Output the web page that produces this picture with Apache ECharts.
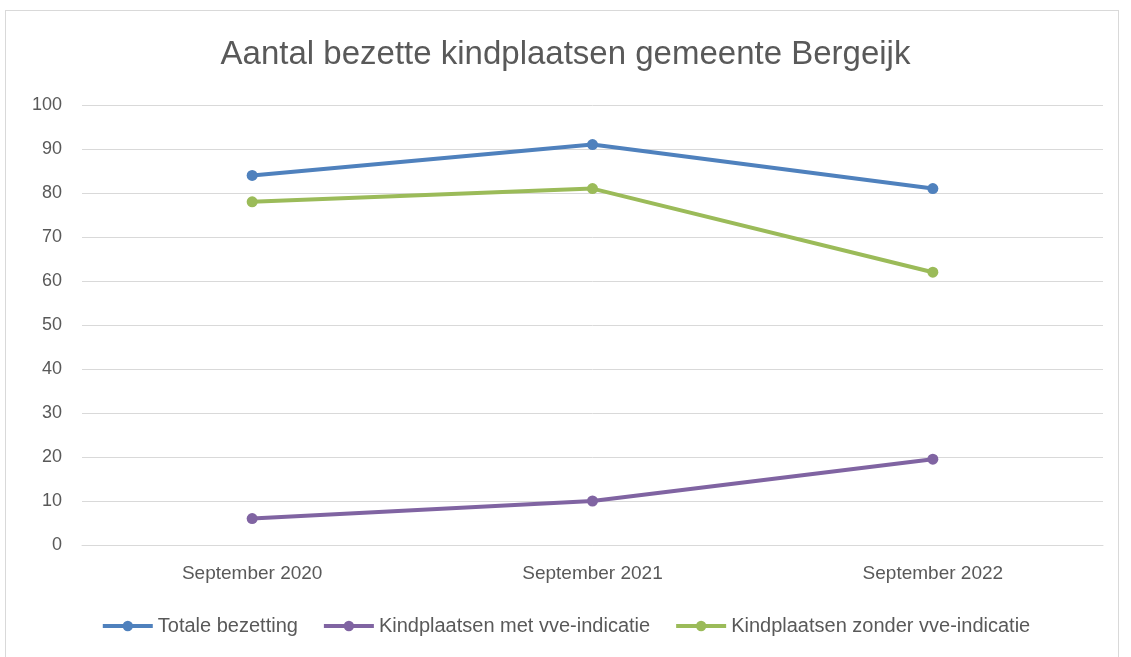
<!DOCTYPE html>
<html>
<head>
<meta charset="utf-8">
<script src="https://cdn.jsdelivr.net/npm/echarts@6/dist/echarts.min.js"></script>
<style>
    * { margin: 0; padding: 0; }
    body { background: #fff; }
    #frame { position: absolute; left: 5px; top: 10px; width: 1114px; height: 660px; border: 1px solid #d9d9d9; box-sizing: border-box; }
    #main { width: 1131px; height: 657px; position: absolute; left: 0; top: 0; }
</style>
</head>
<body>
<div id="frame"></div>
<div id="main"></div>
<script>
    // categorieen en waarden
    var categories = ['September 2020', 'September 2021', 'September 2022'];
    var totaal = [84, 91, 81];
    var metVve = [6, 10, 19.5];
    var zonderVve = [78, 81, 62];
    var seriesNames = ['Totale bezetting', 'Kindplaatsen met vve-indicatie', 'Kindplaatsen zonder vve-indicatie'];

    var font = "'Liberation Sans', sans-serif";
    var colors = ['#4F81BD', '#8064A2', '#9BBB59'];

    function lineSerie(name, data, color) {
        return {
            name: name,
            type: 'line',
            data: data,
            symbol: 'circle',
            symbolSize: 11,
            lineStyle: { width: 4, color: color },
            itemStyle: { color: color }
        };
    }

    var chart = echarts.init(document.getElementById('main'));
    chart.setOption({
        animation: false,
        title: {
            text: 'Aantal bezette kindplaatsen gemeente Bergeijk',
            left: 'center',
            top: 33,
            textStyle: { fontFamily: font, fontSize: 33, fontWeight: 'normal', color: '#595959' }
        },
        legend: {
            bottom: 16,
            left: 'center',
            itemWidth: 50,
            itemHeight: 13,
            itemGap: 24,
            lineStyle: { width: 4 },
            textStyle: { fontFamily: font, fontSize: 20, color: '#595959' },
            data: seriesNames
        },
        grid: { left: 82, right: 28, top: 105, bottom: 112, containLabel: false },
        xAxis: {
            type: 'category',
            data: categories,
            axisLine: { lineStyle: { color: '#d9d9d9' } },
            axisTick: { show: false },
            axisLabel: { fontFamily: font, fontSize: 19, color: '#595959', margin: 19 }
        },
        yAxis: {
            type: 'value',
            min: 0,
            max: 100,
            interval: 10,
            axisLine: { show: false },
            axisTick: { show: false },
            axisLabel: { fontFamily: font, fontSize: 18, color: '#595959', margin: 20 },
            splitLine: { lineStyle: { color: '#d9d9d9', width: 1 } }
        },
        series: [
            lineSerie(seriesNames[0], totaal, colors[0]),
            lineSerie(seriesNames[1], metVve, colors[1]),
            lineSerie(seriesNames[2], zonderVve, colors[2])
        ]
    });
</script>
</body>
</html>
